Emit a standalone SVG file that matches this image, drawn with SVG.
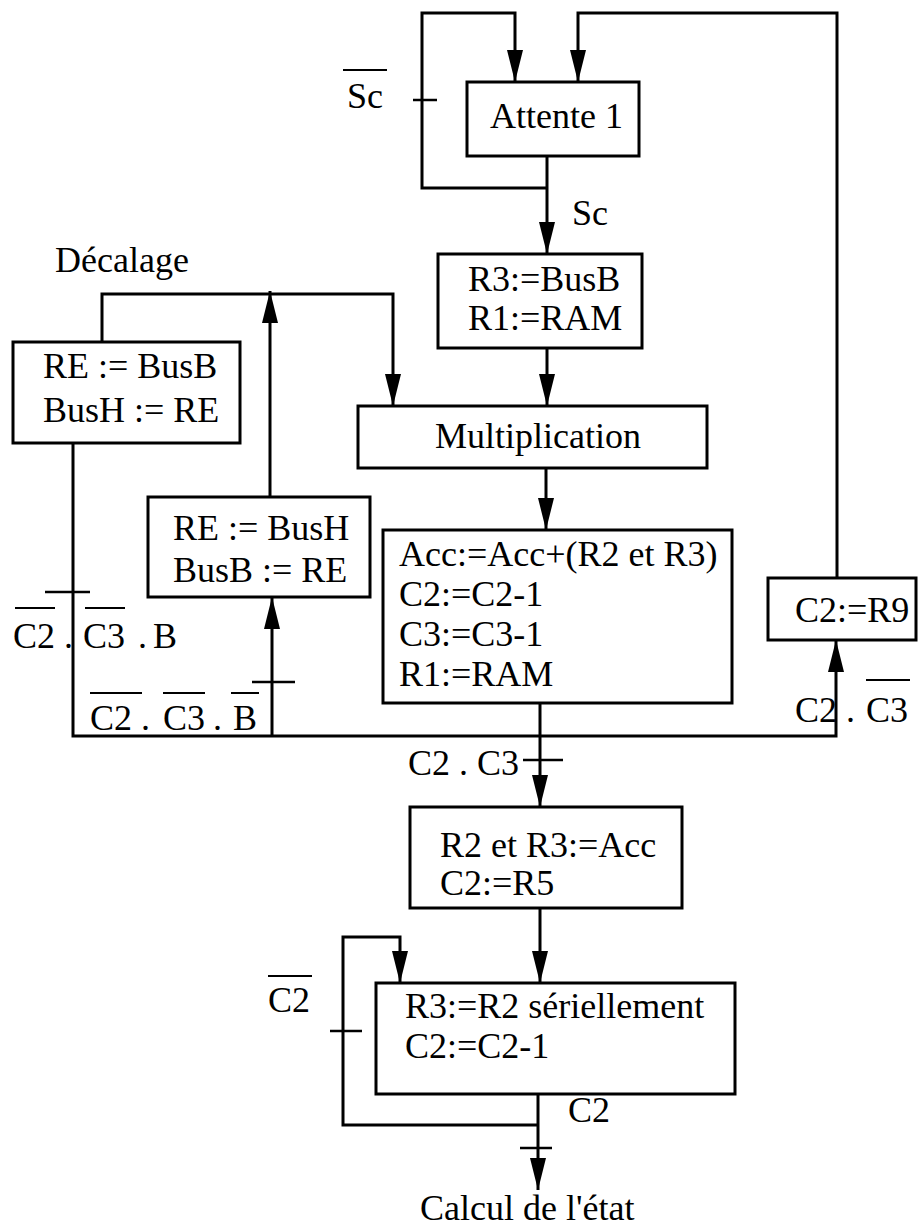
<svg xmlns="http://www.w3.org/2000/svg" width="918" height="1227" viewBox="0 0 918 1227">
<style>
  .box { fill: #fff; stroke: #000; stroke-width: 3; }
  .wire { fill: none; stroke: #000; stroke-width: 3; }
  .arr { fill: none; stroke: #000; stroke-width: 3; marker-end: url(#ah); }
  .tick { stroke: #000; stroke-width: 2.5; }
  .bar { stroke: #000; stroke-width: 2; }
  text { font-family: "Liberation Serif", "Times New Roman", serif; font-size: 36px; fill: #000; }
</style>
<defs>
  <marker id="ah" markerUnits="userSpaceOnUse" markerWidth="32" markerHeight="16" refX="32" refY="8" orient="auto">
    <path d="M0,0 L32,8 L0,16 z" fill="#000"/>
  </marker>
</defs>
<rect width="918" height="1227" fill="#fff"/>

<g id="connectors">
  <path class="arr" d="M547,188 H422 V13 H515 V82"/>
  <line class="tick" x1="413" y1="100" x2="437" y2="100"/>
  <path class="arr" d="M837,578 V13 H578 V82"/>
  <path class="wire" d="M547,156 V188"/>
  <path class="arr" d="M547,188 V254"/>
  <path class="arr" d="M547,348 V406"/>
  <path class="arr" d="M102,342 V294 H393 V406"/>
  <path class="arr" d="M270,497 V291"/>
  <path class="arr" d="M546,468 V530"/>
  <path class="arr" d="M540,703 V807"/>
  <line class="tick" x1="523" y1="760" x2="563" y2="760"/>
  <path class="arr" d="M73,443 V736 H836 V640"/>
  <line class="tick" x1="45" y1="592" x2="90" y2="592"/>
  <path class="arr" d="M272,736 V597"/>
  <line class="tick" x1="252" y1="682" x2="295" y2="682"/>
  <path class="arr" d="M540,908 V983"/>
  <path class="arr" d="M538,1094 V1190"/>
  <line class="tick" x1="520" y1="1148" x2="552" y2="1148"/>
  <path class="arr" d="M538,1125 H343 V937 H400 V983"/>
  <line class="tick" x1="330" y1="1031" x2="362" y2="1031"/>
</g>

<g id="labels">
  <text x="347" y="108">Sc</text>
  <line class="bar" x1="343" y1="70" x2="387" y2="70"/>
  <text x="572" y="225">Sc</text>
  <text x="55" y="272">Décalage</text>
  <text y="648"><tspan x="13">C2</tspan><tspan x="64">.</tspan><tspan x="83">C3</tspan><tspan x="138">.</tspan><tspan x="153">B</tspan></text>
  <line class="bar" x1="15" y1="608" x2="55" y2="608"/>
  <line class="bar" x1="85" y1="608" x2="125" y2="608"/>
  <text y="730"><tspan x="90">C2</tspan><tspan x="141">.</tspan><tspan x="163">C3</tspan><tspan x="213">.</tspan><tspan x="233">B</tspan></text>
  <line class="bar" x1="90" y1="693" x2="142" y2="693"/>
  <line class="bar" x1="163" y1="693" x2="205" y2="693"/>
  <line class="bar" x1="231" y1="693" x2="259" y2="693"/>
  <text y="722"><tspan x="795">C2</tspan><tspan x="846">.</tspan><tspan x="866">C3</tspan></text>
  <line class="bar" x1="866" y1="680" x2="910" y2="680"/>
  <text x="408" y="775">C2 . C3</text>
  <text x="268" y="1012">C2</text>
  <line class="bar" x1="268" y1="976" x2="312" y2="976"/>
  <text x="568" y="1122">C2</text>
  <text x="420" y="1220">Calcul de l'état</text>
</g>

<g id="attente1">
  <rect class="box" x="467" y="82" width="172" height="74"/>
  <text x="490" y="128">Attente 1</text>
</g>
<g id="r3busb">
  <rect class="box" x="438" y="254" width="204" height="94"/>
  <text x="468" y="291">R3:=BusB</text>
  <text x="468" y="330">R1:=RAM</text>
</g>
<g id="decalage1">
  <rect class="box" x="13" y="342" width="227" height="101"/>
  <text x="43" y="378">RE := BusB</text>
  <text x="43" y="422">BusH := RE</text>
</g>
<g id="multiplication">
  <rect class="box" x="358" y="406" width="349" height="62"/>
  <text x="435" y="448">Multiplication</text>
</g>
<g id="decalage2">
  <rect class="box" x="148" y="497" width="222" height="100"/>
  <text x="173" y="540">RE := BusH</text>
  <text x="173" y="582">BusB := RE</text>
</g>
<g id="acc">
  <rect class="box" x="383" y="530" width="349" height="173"/>
  <text x="399" y="566">Acc:=Acc+(R2 et R3)</text>
  <text x="399" y="606">C2:=C2-1</text>
  <text x="399" y="646">C3:=C3-1</text>
  <text x="399" y="686">R1:=RAM</text>
</g>
<g id="c2r9">
  <rect class="box" x="768" y="578" width="148" height="62"/>
  <text x="795" y="622">C2:=R9</text>
</g>
<g id="r2r3acc">
  <rect class="box" x="410" y="807" width="272" height="101"/>
  <text x="440" y="857">R2 et R3:=Acc</text>
  <text x="440" y="895">C2:=R5</text>
</g>
<g id="serie">
  <rect class="box" x="376" y="983" width="359" height="111"/>
  <text x="405" y="1018">R3:=R2 sériellement</text>
  <text x="405" y="1058">C2:=C2-1</text>
</g>
</svg>
